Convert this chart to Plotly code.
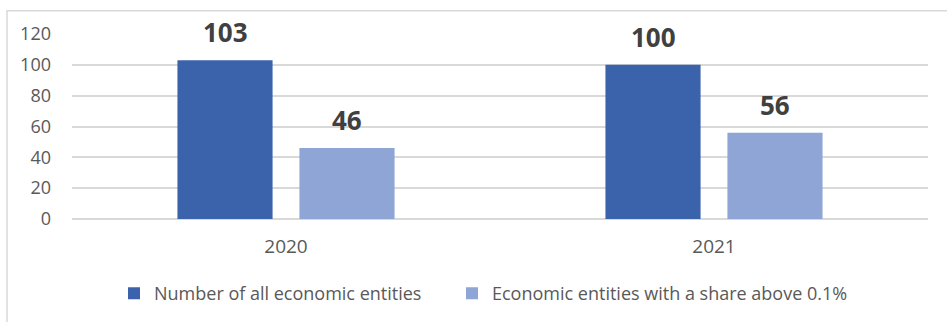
import plotly.graph_objects as go

categories = ["2020", "2021"]
all_entities = [103, 100]
share_entities = [46, 56]
series_names = ["Number of all economic entities", "Economic entities with a share above 0.1%"]
y_ticks = [0, 20, 40, 60, 80, 100, 120]

dark = "#3A63AC"
light = "#8FA5D6"
gray = "#595959"
font_family = "'Open Sans', Lato, sans-serif"

fig = go.Figure()
fig.add_trace(go.Bar(x=categories, y=all_entities, name=series_names[0], legend="legend",
                     marker=dict(color=dark, line=dict(width=0))))
fig.add_trace(go.Bar(x=categories, y=share_entities, name=series_names[1], legend="legend2",
                     marker=dict(color=light, line=dict(width=0))))

annotations = []
for vals, shift in ((all_entities, -61), (share_entities, 61)):
    for i, v in enumerate(vals):
        annotations.append(dict(x=i, y=v, xref="x", yref="y", text=f"<b>{v}</b>",
                                showarrow=False, xshift=shift, yanchor="bottom", yshift=8,
                                font=dict(size=26, color="#404040", family=font_family)))

legend_style = dict(orientation="h", xanchor="left", y=-0.303, yanchor="top",
                    font=dict(size=18, color=gray), itemwidth=30, bgcolor="rgba(0,0,0,0)")

fig.update_layout(
    width=947, height=322,
    margin=dict(l=72, r=19, t=34, b=103, autoexpand=False),
    paper_bgcolor="white", plot_bgcolor="white",
    barmode="group", bargap=0.43, bargroupgap=0.22,
    font=dict(family=font_family, color=gray, size=18),
    showlegend=True,
    legend=dict(x=(114 - 72) / 856, **legend_style),
    legend2=dict(x=(452 - 72) / 856, **legend_style),
    annotations=annotations,
    xaxis=dict(type="category", range=[-0.5, 1.5], showgrid=False, showline=False,
               ticks="outside", ticklen=10,
               tickcolor="rgba(0,0,0,0)", tickfont=dict(size=19, color=gray)),
    yaxis=dict(range=[0, 120], tickvals=y_ticks, showgrid=True, gridcolor="#D9D9D9",
               gridwidth=1.5, zeroline=True, zerolinecolor="#D9D9D9", zerolinewidth=1.5,
               ticks="", ticklabelstandoff=20, tickfont=dict(size=18, color=gray)),
    shapes=[dict(type="rect", xref="paper", yref="paper",
                 x0=(7 - 72) / 856, x1=1.2, y0=-0.8, y1=(219.3 - 11) / 185,
                 line=dict(color="#D9D9D9", width=1.5), fillcolor="rgba(0,0,0,0)",
                 layer="below")],
)

post = ("document.body.style.margin='0';document.body.style.padding='0';"
        "document.body.style.overflow='hidden';"
        "var gd=document.getElementById('{plot_id}');"
        "Plotly.relayout(gd,{width:947,height:322});")

fig.write_html("out.html", post_script=post, config={"displayModeBar": False})
